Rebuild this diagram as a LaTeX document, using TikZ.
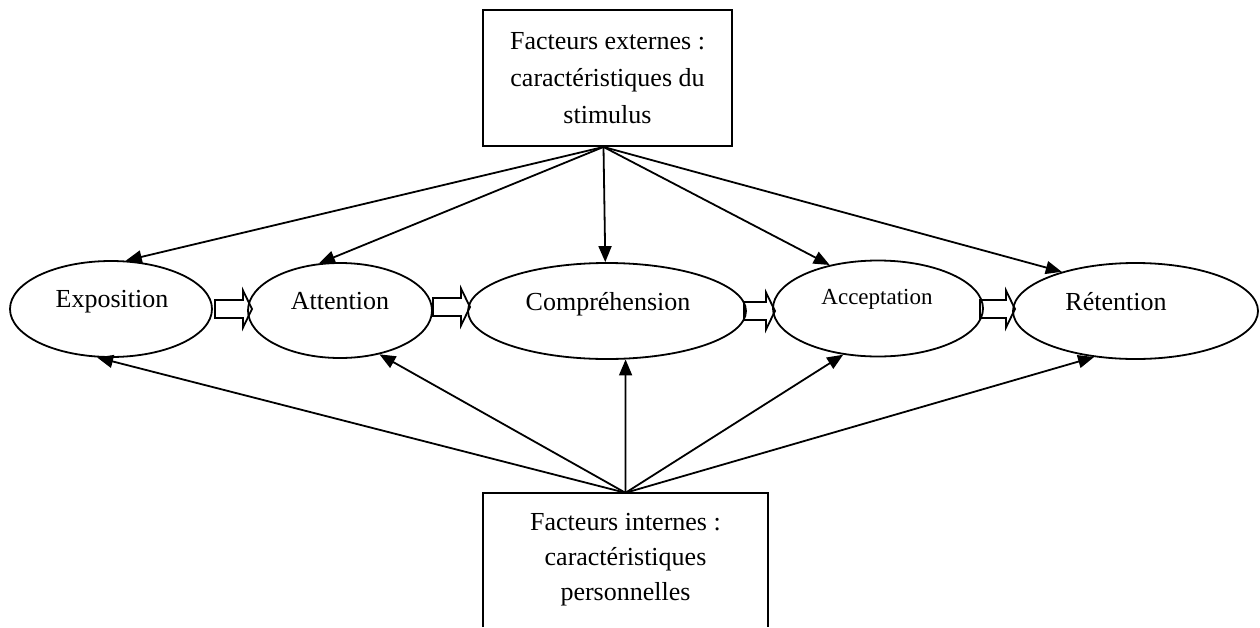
\documentclass[tikz,border=0pt]{standalone}
\usepackage{fontspec}
\setmainfont{Liberation Serif}
\usetikzlibrary{arrows.meta,shapes.geometric}

% hollow block arrow: start x, tip x, centre y
\newcommand\blockarrow[3]{%
  \draw[blockarr] (#1,#3-9) -- (#2-9,#3-9) -- (#2-9,#3-18.5) -- (#2,#3)
    -- (#2-9,#3+18.5) -- (#2-9,#3+9) -- (#1,#3+9) -- cycle;}

\begin{document}
\begin{tikzpicture}[x=1pt,y=-1pt,
  stage/.style={ellipse, draw, line width=1.8pt, minimum width=#1,
    minimum height=96pt, inner sep=0pt},
  stagetext/.style={anchor=base, inner sep=0pt, font=\fontsize{26}{30}\selectfont},
  factor/.style={align=center, font=\fontsize{26}{37}\selectfont},
  link/.style={line width=1.8pt, -{Triangle[length=16pt,width=13pt]}},
  blockarr/.style={draw, line width=1.8pt, line join=miter}]

\useasboundingbox (0,0) rectangle (1260,627);
\fill[white] (0,0) rectangle (1260,627);

% factor boxes
\node[factor, draw, line width=1.9pt, minimum width=249pt, minimum height=136pt]
  (ext) at (607.5,78) {Facteurs externes :\\caractéristiques du\\stimulus};
\node[factor, font=\fontsize{26}{35}\selectfont, minimum width=285pt, minimum height=134pt]
  (int) at (625.5,560) {Facteurs internes :\\caractéristiques\\personnelles};
\draw[line width=1.9pt] (int.south west) -- (int.north west) -- (int.north east) -- (int.south east);

% stages
\node[stage=202pt] (expo) at (111,309) {};
\node[stage=184pt, minimum height=95pt] (atte) at (340,310.5) {};
\node[stage=278pt] (comp) at (607,311) {};
\node[stage=210pt] (acce) at (878,308.5) {};
\node[stage=245pt] (rete) at (1135.5,311) {};

\node[stagetext] (expoT) at (112,307) {Exposition};
\node[stagetext] (atteT) at (340,309) {Attention};
\node[stagetext] (compT) at (608,310) {Compréhension};
\node[stagetext, font=\fontsize{23}{27}\selectfont] (acceT) at (877,304) {Acceptation};
\node[stagetext] (reteT) at (1116,310) {Rétention};

% external factors act on every stage
\coordinate (extsrc) at ([xshift=-4pt]ext.south);
\draw[link] (extsrc) -- (expo.73);
\draw[link] (extsrc) -- (atte.114);
\draw[link] (extsrc) -- (comp.92);
\draw[link] (extsrc) -- (acce.138);
\draw[link] (extsrc) -- (rete.152);

% internal factors act on every stage
\draw[link] (int.north) -- (expo.254);
\draw[link] (int.north) -- (atte.312);
\draw[link] (int.north) -- (comp.291);
\draw[link] (int.north) -- (acce.233);
\draw[link] (int.north) -- (rete.228);

% sequence of stages
\blockarrow{215}{252}{309}
\blockarrow{433}{470}{307}
\blockarrow{744}{775}{311}
\blockarrow{980}{1015}{309}
\end{tikzpicture}
\end{document}
